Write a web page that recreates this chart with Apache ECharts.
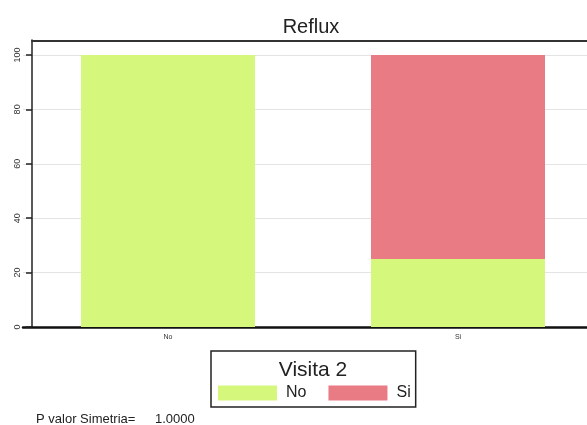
<!DOCTYPE html>
<html>
<head>
<meta charset="utf-8">
<script src="https://cdn.jsdelivr.net/npm/echarts@6/dist/echarts.min.js"></script>
<style>
  html, body { margin: 0; padding: 0; background: #fff; }
  #chart { width: 587px; height: 425px; }
</style>
</head>
<body>
<div id="chart"></div>
<script>
// Categories of the first visit and the percentage split of the second visit
const categories = ['No', 'Si'];
const seriesNames = ['No', 'Si'];
const valuesNo = [100, 25];
const valuesSi = [0, 75];
const yTicks = [0, 20, 40, 60, 80, 100];
const chartTitle = 'Reflux';
const legendTitle = 'Visita 2';
const footnoteLabel = 'P valor Simetria=';
const footnoteValue = '1.0000';

const colors = ['#d4f77c', '#e97b85'];
const font = '"Liberation Sans", Arial, sans-serif';

const chart = echarts.init(document.getElementById('chart'), null, { renderer: 'canvas' });

chart.setOption({
  animation: false,
  backgroundColor: '#ffffff',
  title: [
    {
      text: chartTitle,
      left: 306, top: 12, textAlign: 'center',
      textStyle: { fontFamily: font, fontSize: 20, fontWeight: 'normal', color: '#222' }
    },
    {
      text: legendTitle,
      left: 308, top: 355, textAlign: 'center',
      textStyle: { fontFamily: font, fontSize: 21, fontWeight: 'normal', color: '#222' }
    },
    {
      text: footnoteLabel,
      left: 36, top: 413, padding: 0,
      textStyle: { fontFamily: font, fontSize: 13, fontWeight: 'normal', color: '#222' }
    },
    {
      text: footnoteValue,
      left: 155, top: 413, padding: 0,
      textStyle: { fontFamily: font, fontSize: 13, fontWeight: 'normal', color: '#222' }
    }
  ],
  legend: {
    data: seriesNames,
    left: 211, top: 351,
    orient: 'horizontal',
    padding: [34, 5, 6, 7],
    itemWidth: 59, itemHeight: 15, itemGap: 22,
    borderColor: '#222', borderWidth: 1.5,
    icon: 'rect',
    textStyle: { fontFamily: font, fontSize: 16, color: '#222', padding: [0, 0, 0, 4] }
  },
  grid: [
    // plotting area
    { left: 23, top: 40, width: 580, bottom: 98, containLabel: false, outerBoundsMode: 'none' },
    // frame line along the top, starting at the vertical axis
    { left: 32, top: 40, width: 571, height: 1, containLabel: false, outerBoundsMode: 'none' }
  ],
  xAxis: [
    {
      type: 'category',
      gridIndex: 0,
      data: categories,
      position: 'bottom',
      axisLine: { lineStyle: { color: '#111', width: 2.5 } },
      axisTick: { show: false },
      axisLabel: { fontFamily: font, fontSize: 7, color: '#333', margin: 7 }
    },
    {
      type: 'category',
      gridIndex: 1,
      data: categories,
      position: 'top',
      axisLine: { lineStyle: { color: '#333', width: 2 } },
      axisTick: { show: false },
      axisLabel: { show: false }
    }
  ],
  yAxis: [
    {
      type: 'value',
      gridIndex: 0,
      min: 0, max: 105.5, interval: 20,
      offset: -9,
      axisLine: { show: true, lineStyle: { color: '#222', width: 1.5 } },
      axisTick: { show: true, length: 6, lineStyle: { color: '#222', width: 1.5 }, customValues: yTicks },
      axisLabel: {
        customValues: yTicks,
        rotate: 90, fontFamily: font, fontSize: 9, color: '#333', margin: 10
      },
      splitLine: { show: true, lineStyle: { color: '#e4e4e4', width: 1.2 } }
    },
    {
      type: 'value',
      gridIndex: 1,
      show: false
    }
  ],
  series: [
    {
      name: seriesNames[0], type: 'bar', stack: 'v', data: valuesNo,
      barWidth: '60%', itemStyle: { color: colors[0] }
    },
    {
      name: seriesNames[1], type: 'bar', stack: 'v', data: valuesSi,
      barWidth: '60%', itemStyle: { color: colors[1] }
    }
  ]
});
</script>
</body>
</html>
